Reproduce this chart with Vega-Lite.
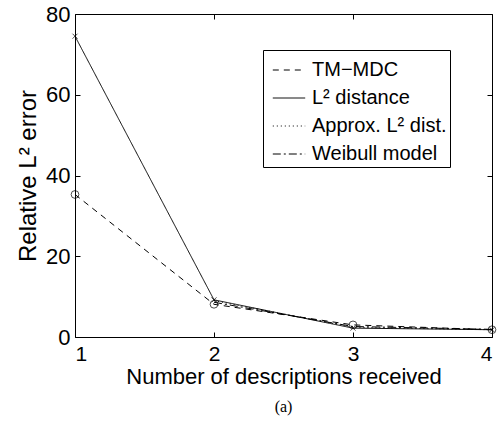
{
  "$schema": "https://vega.github.io/schema/vega-lite/v6.json",
  "width": 417,
  "height": 323,
  "autosize": {"type": "none"},
  "padding": {"left": 75, "top": 14, "right": 6, "bottom": 84},
  "background": "white",
  "config": {
    "font": "Liberation Sans",
    "view": {"stroke": "black", "strokeWidth": 1},
    "axis": {"grid": false, "domain": false, "tickColor": "black", "labelColor": "black", "titleColor": "black", "labelFont": "Liberation Sans", "titleFont": "Liberation Sans", "titleFontWeight": "normal"}
  },
  "title": {"text": "(a)", "orient": "bottom", "font": "Liberation Serif", "fontSize": 16, "fontWeight": "normal", "offset": 12, "anchor": "middle", "color": "black"},
  "data": {"values": [
    {"series": "TM\u2212MDC", "x": 1, "y": 35.3},
    {"series": "TM\u2212MDC", "x": 2, "y": 8.1},
    {"series": "TM\u2212MDC", "x": 3, "y": 3.0},
    {"series": "TM\u2212MDC", "x": 4, "y": 1.8},
    {"series": "L\u00b2 distance", "x": 1, "y": 74.5},
    {"series": "L\u00b2 distance", "x": 2, "y": 9.2},
    {"series": "L\u00b2 distance", "x": 3, "y": 2.2},
    {"series": "L\u00b2 distance", "x": 4, "y": 1.8},
    {"series": "Approx. L\u00b2 dist.", "x": 2, "y": 9.0},
    {"series": "Approx. L\u00b2 dist.", "x": 3, "y": 2.4},
    {"series": "Approx. L\u00b2 dist.", "x": 4, "y": 1.8},
    {"series": "Weibull model", "x": 2, "y": 8.6},
    {"series": "Weibull model", "x": 3, "y": 2.6},
    {"series": "Weibull model", "x": 4, "y": 1.9}
  ]},
  "layer": [
    {
      "mark": {"type": "line", "strokeWidth": 1, "color": "black"},
      "encoding": {
        "x": {"field": "x", "type": "quantitative", "scale": {"domain": [1, 4], "nice": false},
              "axis": {"values": [1, 2, 3, 4], "format": "d", "title": "Number of descriptions received", "labelFontSize": 21, "titleFontSize": 22, "tickSize": -5, "labelPadding": 11, "titlePadding": 2}},
        "y": {"field": "y", "type": "quantitative", "scale": {"domain": [0, 80], "nice": false},
              "axis": {"values": [0, 20, 40, 60, 80], "title": "Relative L\u00b2 error", "labelFontSize": 22, "titleFontSize": 24, "tickSize": -5, "labelPadding": 10, "titlePadding": 5}},
        "strokeDash": {"field": "series", "type": "nominal",
          "scale": {"domain": ["TM\u2212MDC", "L\u00b2 distance", "Approx. L\u00b2 dist.", "Weibull model"], "range": [[6, 5], [1, 0], [1, 3], [8, 3, 2, 3]]},
          "legend": {"title": null, "orient": "none", "legendX": 188, "legendY": 36, "strokeColor": "black", "fillColor": "white", "padding": 3, "symbolOffset": 6, "symbolType": "stroke", "symbolSize": 1050, "symbolStrokeColor": "black", "symbolStrokeWidth": 1, "labelFontSize": 20, "labelFont": "Liberation Sans", "labelColor": "black", "rowPadding": 1, "labelOffset": 6, "cornerRadius": 0, "labelLimit": 300}}
      }
    },
    {
      "transform": [{"filter": "datum.series === 'TM\u2212MDC' || datum.series === 'L\u00b2 distance'"}],
      "mark": {"type": "point", "filled": false, "strokeWidth": 1, "color": "black"},
      "encoding": {
        "x": {"field": "x", "type": "quantitative", "axis": null},
        "y": {"field": "y", "type": "quantitative", "axis": null},
        "shape": {"field": "series", "type": "nominal", "scale": {"domain": ["TM\u2212MDC", "L\u00b2 distance"], "range": ["circle", "M-1,-1L1,1M1,-1L-1,1"]}, "legend": null},
        "size": {"field": "series", "type": "nominal", "scale": {"domain": ["TM\u2212MDC", "L\u00b2 distance"], "range": [60, 25]}, "legend": null}
      }
    },
    {
      "mark": {"type": "rule", "opacity": 0},
      "encoding": {
        "x": {"field": "x", "type": "quantitative", "axis": {"orient": "top", "values": [1, 2, 3, 4], "labels": false, "title": null, "tickSize": -5}},
        "y": {"field": "y", "type": "quantitative", "axis": {"orient": "right", "values": [0, 20, 40, 60, 80], "labels": false, "title": null, "tickSize": -5}}
      }
    }
  ],
  "resolve": {"axis": {"x": "independent", "y": "independent"}}
}
